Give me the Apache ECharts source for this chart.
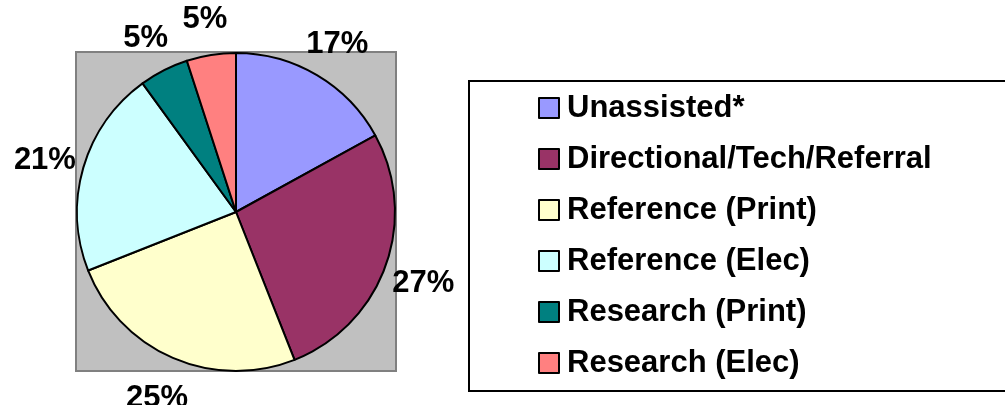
<!DOCTYPE html>
<html>
<head>
<meta charset="utf-8">
<script src="https://cdn.jsdelivr.net/npm/echarts@6/dist/echarts.min.js"></script>
<style>
  html, body { margin: 0; padding: 0; background: #fff; }
  #charts { width: 1005px; height: 405px; }
</style>
</head>
<body>
<div id="charts"></div>
<script>
// 类别与数值
const categories = ['Unassisted*', 'Directional/Tech/Referral', 'Reference (Print)', 'Reference (Elec)', 'Research (Print)', 'Research (Elec)'];
const values = [17, 27, 25, 21, 5, 5];
const colors = ['#9999FF', '#993366', '#FFFFCC', '#CCFFFF', '#008080', '#FF8080'];

const pieData = categories.map((name, i) => ({ name: name, value: values[i], itemStyle: { color: colors[i] } }));

let myChart = echarts.init(document.getElementById('charts'));

let option = {
  animation: false,
  textStyle: { fontFamily: 'Liberation Sans, Arial, sans-serif' },
  graphic: [
    {
      type: 'rect',
      z: -10,
      shape: { x: 76, y: 52, width: 320, height: 319 },
      style: { fill: '#C0C0C0', stroke: '#808080', lineWidth: 2 }
    }
  ],
  legend: {
    orient: 'vertical',
    left: 469,
    top: 81,
    data: categories,
    padding: [10, 90, 11, 69],
    itemGap: 17,
    itemWidth: 20,
    itemHeight: 20,
    icon: 'rect',
    borderColor: '#000',
    borderWidth: 2,
    backgroundColor: '#fff',
    itemStyle: { borderColor: '#000', borderWidth: 2 },
    textStyle: {
      fontFamily: 'Liberation Sans, Arial, sans-serif',
      fontWeight: 'bold',
      fontSize: 31,
      color: '#000',
      lineHeight: 34,
      padding: [0, 0, 0, 3]
    }
  },
  series: [
    {
      name: 'pie',
      type: 'pie',
      center: [236, 212],
      radius: 159,
      startAngle: 90,
      clockwise: true,
      label: { show: false },
      labelLine: { show: false },
      itemStyle: { borderColor: '#000', borderWidth: 2 },
      emphasis: { disabled: true },
      data: pieData
    },
    {
      // 透明外环，只用于放置百分比标签
      name: 'labels',
      type: 'pie',
      center: [236, 216],
      radius: [182, 210],
      startAngle: 90,
      clockwise: true,
      silent: true,
      legendHoverLink: false,
      itemStyle: { color: 'rgba(0,0,0,0)', borderWidth: 0 },
      label: {
        show: true,
        position: 'inside',
        formatter: '{c}%',
        fontFamily: 'Liberation Sans, Arial, sans-serif',
        fontWeight: 'bold',
        fontSize: 31,
        color: '#000'
      },
      labelLine: { show: false },
      emphasis: { disabled: true },
      data: categories.map((name, i) => ({ name: name, value: values[i] }))
    }
  ]
};

myChart.setOption(option);
</script>
</body>
</html>
